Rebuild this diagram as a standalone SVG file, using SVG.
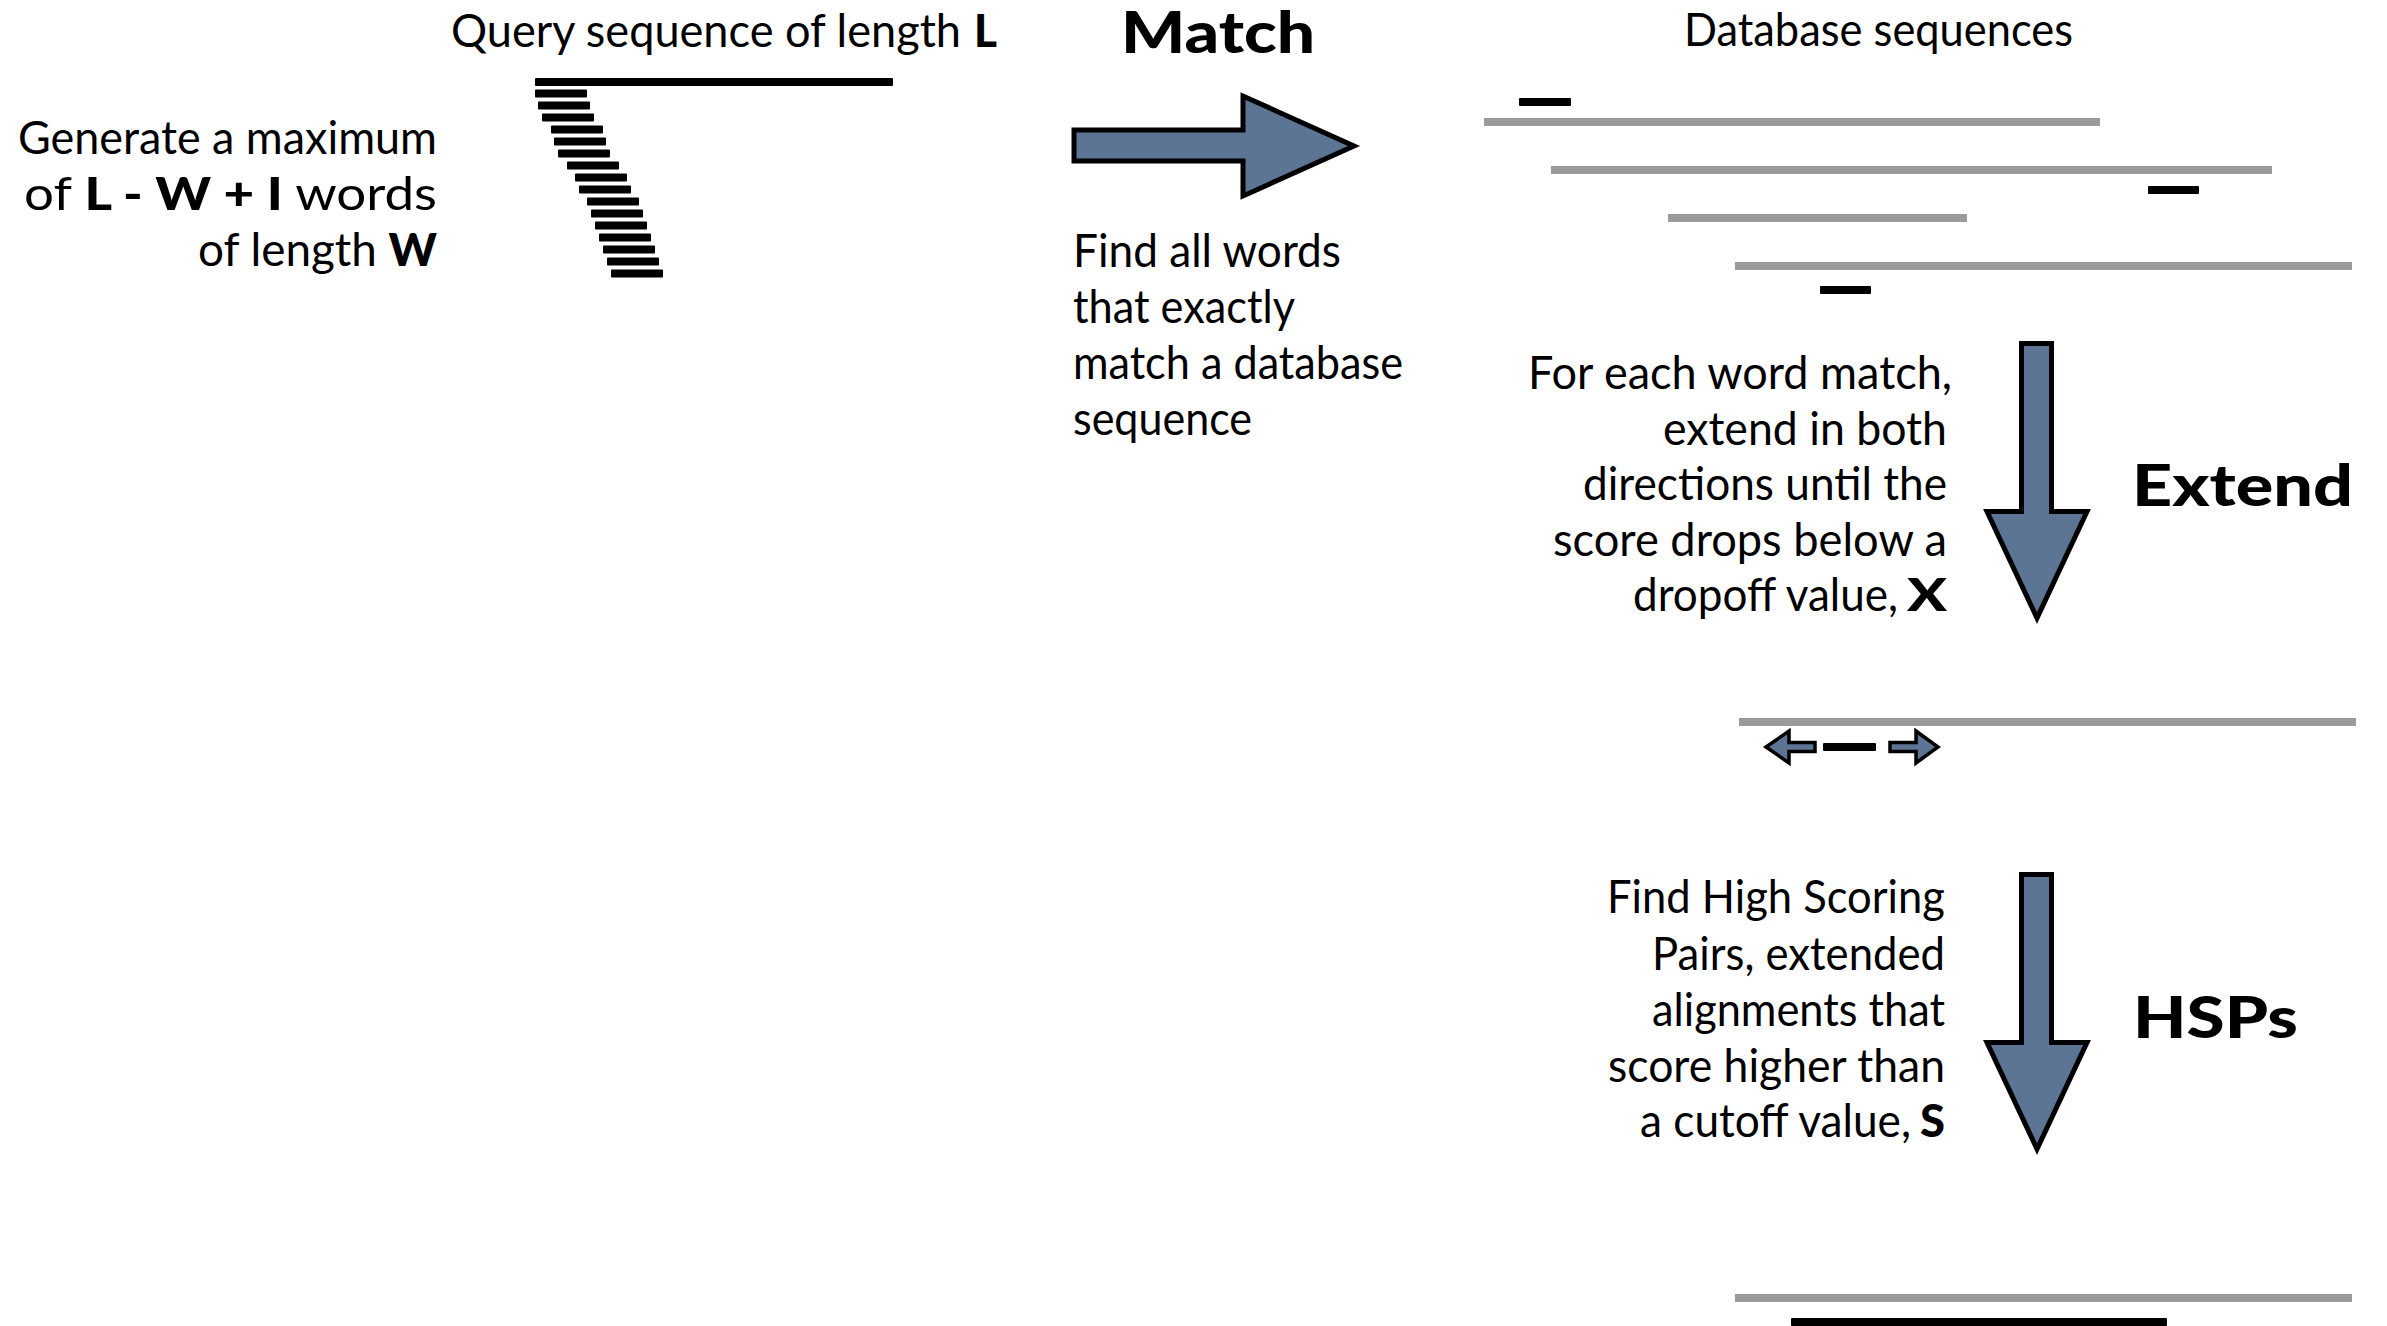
<svg xmlns="http://www.w3.org/2000/svg" width="2387" height="1326" viewBox="0 0 2387 1326">
<style>
.t{font-family:Lato,"Liberation Sans",sans-serif;font-size:46px;fill:#000}
.b{font-weight:900}
.lbl{font-family:Lato,"Liberation Sans",sans-serif;font-size:57px;font-weight:900;fill:#000}
.bar{fill:#000}
.gray{fill:#9a9a9a}
.big{fill:#5d7594;stroke:#000;stroke-width:5;stroke-linejoin:miter;stroke-miterlimit:10}
.small{fill:#5d7594;stroke:#000;stroke-width:3.5;stroke-linejoin:miter;stroke-miterlimit:10}
</style>
<rect width="2387" height="1326" fill="#fff"/>

<g id="query">
<text class="t" x="451" y="47" textLength="510" lengthAdjust="spacingAndGlyphs">Query sequence of length</text>
<text class="t b" x="974" y="47" textLength="23" lengthAdjust="spacingAndGlyphs">L</text>
<rect class="bar" x="535" y="78" width="358" height="8" rx="1"/>
</g>

<g id="words">
<text class="t" x="18" y="154" textLength="419" lengthAdjust="spacingAndGlyphs">Generate a maximum</text>
<text class="t" x="24" y="210" textLength="413" lengthAdjust="spacingAndGlyphs">of <tspan class="b">L - W + I</tspan> words</text>
<text class="t" x="198" y="266" textLength="239" lengthAdjust="spacingAndGlyphs">of length <tspan class="b">W</tspan></text>
<rect class="bar" x="535" y="89.5" width="52" height="8" rx="1"/>
<rect class="bar" x="538" y="101.5" width="52" height="8" rx="1"/>
<rect class="bar" x="542" y="113.5" width="52" height="8" rx="1"/>
<rect class="bar" x="551" y="125.5" width="52" height="8" rx="1"/>
<rect class="bar" x="554" y="137.5" width="52" height="8" rx="1"/>
<rect class="bar" x="558" y="149.5" width="52" height="8" rx="1"/>
<rect class="bar" x="567" y="161.5" width="52" height="8" rx="1"/>
<rect class="bar" x="575" y="173.5" width="52" height="8" rx="1"/>
<rect class="bar" x="579" y="185.5" width="52" height="8" rx="1"/>
<rect class="bar" x="587" y="197.5" width="52" height="8" rx="1"/>
<rect class="bar" x="591" y="209.5" width="52" height="8" rx="1"/>
<rect class="bar" x="595" y="221.5" width="52" height="8" rx="1"/>
<rect class="bar" x="599" y="233.5" width="52" height="8" rx="1"/>
<rect class="bar" x="603" y="245.5" width="52" height="8" rx="1"/>
<rect class="bar" x="607" y="257.5" width="52" height="8" rx="1"/>
<rect class="bar" x="611" y="269.5" width="52" height="8" rx="1"/>
</g>

<g id="match">
<text class="lbl" x="1121" y="53" textLength="194" lengthAdjust="spacingAndGlyphs">Match</text>
<text class="t" x="1073" y="267" textLength="268" lengthAdjust="spacingAndGlyphs">Find all words</text>
<text class="t" x="1073" y="323" textLength="222" lengthAdjust="spacingAndGlyphs">that exactly</text>
<text class="t" x="1073" y="379" textLength="330" lengthAdjust="spacingAndGlyphs">match a database</text>
<text class="t" x="1073" y="435" textLength="179" lengthAdjust="spacingAndGlyphs">sequence</text>
</g>

<g id="database">
<text class="t" x="1684" y="46" textLength="389" lengthAdjust="spacingAndGlyphs">Database sequences</text>
<rect class="gray" x="1484" y="118" width="616" height="8"/>
<rect class="gray" x="1551" y="166" width="721" height="8"/>
<rect class="gray" x="1668" y="214" width="299" height="8"/>
<rect class="gray" x="1735" y="262" width="617" height="8"/>
<rect class="bar" x="1519" y="98" width="52" height="8" rx="1"/>
<rect class="bar" x="2148" y="186" width="51" height="8" rx="1"/>
<rect class="bar" x="1820" y="286" width="51" height="8" rx="1"/>
</g>

<g id="extend">
<text class="t" x="1528" y="389" textLength="424" lengthAdjust="spacingAndGlyphs">For each word match,</text>
<text class="t" x="1663" y="445" textLength="284" lengthAdjust="spacingAndGlyphs">extend in both</text>
<text class="t" x="1583" y="500" textLength="364" lengthAdjust="spacingAndGlyphs">directions until the</text>
<text class="t" x="1553" y="556" textLength="394" lengthAdjust="spacingAndGlyphs">score drops below a</text>
<text class="t" x="1633" y="611" textLength="265" lengthAdjust="spacingAndGlyphs">dropoff value,</text>
<text class="t b" x="1907" y="611" textLength="40" lengthAdjust="spacingAndGlyphs">X</text>
<text class="lbl" x="2132" y="506" textLength="221" lengthAdjust="spacingAndGlyphs">Extend</text>
<rect class="gray" x="1739" y="718" width="617" height="8"/>
<rect class="bar" x="1823" y="743" width="53" height="8" rx="1"/>
<polygon class="small" points="1766,747 1789,731 1789,742.5 1815,742.5 1815,751.5 1789,751.5 1789,763"/>
<polygon class="small" points="1890,742.5 1916,742.5 1916,731 1938,747 1916,763 1916,751.5 1890,751.5"/>
</g>

<g id="hsps">
<text class="t" x="1607" y="913" textLength="338" lengthAdjust="spacingAndGlyphs">Find High Scoring</text>
<text class="t" x="1652" y="970" textLength="293" lengthAdjust="spacingAndGlyphs">Pairs, extended</text>
<text class="t" x="1652" y="1026" textLength="293" lengthAdjust="spacingAndGlyphs">alignments that</text>
<text class="t" x="1608" y="1082" textLength="337" lengthAdjust="spacingAndGlyphs">score higher than</text>
<text class="t" x="1640" y="1137" textLength="271" lengthAdjust="spacingAndGlyphs">a cutoff value,</text>
<text class="t b" x="1920" y="1137" textLength="25" lengthAdjust="spacingAndGlyphs">S</text>
<text class="lbl" x="2133" y="1038" textLength="165" lengthAdjust="spacingAndGlyphs">HSPs</text>
<rect class="gray" x="1735" y="1294" width="617" height="8"/>
<rect class="bar" x="1791" y="1318" width="376" height="8" rx="1"/>
</g>

<g id="connectors">
<polygon class="big" points="1074,130 1243,130 1243,96 1354,146 1243,196 1243,161 1074,161"/>
<polygon class="big" points="2021.5,343.5 2051.5,343.5 2051.5,511.5 2087,511.5 2037,618 1987,511.5 2021.5,511.5"/>
<polygon class="big" points="2021.5,874.5 2051.5,874.5 2051.5,1042.5 2087,1042.5 2037,1149 1987,1042.5 2021.5,1042.5"/>
</g>
</svg>
